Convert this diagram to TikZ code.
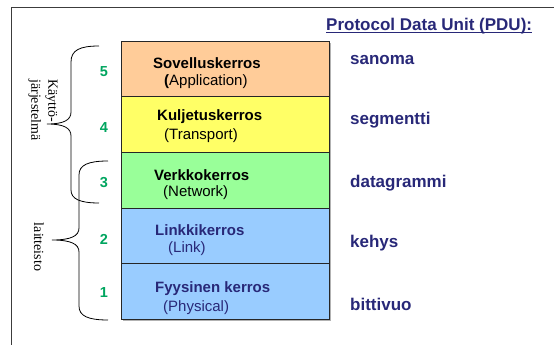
\documentclass[tikz,border=0pt]{standalone}
\usepackage{fontspec}
\setmainfont{Liberation Sans}
\newfontfamily\serifrm{Liberation Serif}
\definecolor{navy}{RGB}{40,40,120}
\definecolor{numgreen}{RGB}{0,165,95}
\definecolor{lorange}{RGB}{255,204,153}
\definecolor{lyellow}{RGB}{255,255,102}
\definecolor{lgreen}{RGB}{153,255,153}
\definecolor{lblue}{RGB}{153,204,255}
\definecolor{frame}{RGB}{60,60,60}
\begin{document}
\begin{tikzpicture}[x=1pt,y=-1pt,
  layer/.style={draw=black!85, line width=0.8pt, minimum width=208pt, minimum height=55.66pt, inner sep=0pt},
  lname/.style={anchor=west, font=\fontsize{15}{17}\selectfont\bfseries, inner sep=0pt},
  lsub/.style={anchor=west, font=\fontsize{15}{17}\selectfont, inner sep=0pt},
  num/.style={font=\fontsize{14.5}{16}\selectfont\bfseries, text=numgreen, inner sep=0pt},
  pdu/.style={anchor=west, font=\fontsize{17}{19}\selectfont\bfseries, text=navy, inner sep=0pt},
  side/.style={font=\fontsize{14}{17}\selectfont\serifrm, rotate=-90, inner sep=0pt},
  brace/.style={draw=black, line width=0.8pt}]
\useasboundingbox (0,0) rectangle (554,345);
% frame
\draw[frame, line width=0.9pt] (11,345) -- (11,7) -- (554,7);
% shadow
\fill[black!30] (123,43) rectangle (331,321);
% layers
\node[layer, fill=lorange] (L5) at (225,68.83) {};
\node[layer, fill=lyellow] (L4) at (225,124.49) {};
\node[layer, fill=lgreen]  (L3) at (225,180.15) {};
\node[layer, fill=lblue]   (L2) at (225,235.81) {};
\node[layer, fill=lblue]   (L1) at (225,291.47) {};
% layer texts
\node[lname] (t5a) at (153,63) {Sovelluskerros};
\node[lsub]  (t5b) at (164,82) {\textbf{(}Application)};
\node[lname] (t4a) at (157,117) {Kuljetuskerros};
\node[lsub]  (t4b) at (164,136) {(Transport)};
\node[lname] (t3a) at (154,175) {Verkkokerros};
\node[lsub]  (t3b) at (163,193) {(Network)};
\node[lname, text=navy] (t2a) at (155,230) {Linkkikerros};
\node[lsub, text=navy]  (t2b) at (168,249) {(Link)};
\node[lname, text=navy] (t1a) at (155,289) {Fyysinen kerros};
\node[lsub, text=navy]  (t1b) at (163,308) {(Physical)};
% numbers
\node[num] (n5) at (104,72) {5};
\node[num] (n4) at (104,128) {4};
\node[num] (n3) at (104,183) {3};
\node[num] (n2) at (104,239) {2};
\node[num] (n1) at (104,293) {1};
% PDU
\node[pdu] (hdr) at (326,26) {Protocol Data Unit (PDU):};
\draw[navy, line width=1.1pt] ([yshift=-2.2pt]hdr.base west) -- ([yshift=-2.2pt]hdr.base east);
\node[pdu] (p5) at (350,60) {sanoma};
\node[pdu] (p4) at (350,120) {segmentti};
\node[pdu] (p3) at (350,183) {datagrammi};
\node[pdu] (p2) at (350,243) {kehys};
\node[pdu] (p1) at (350,304) {bittivuo};
% braces
\draw[brace] (99,46) .. controls (80,46) and (71,50) .. (71,62) -- (71,112)
  .. controls (71,120) and (64,124) .. (47,124)
  .. controls (64,124) and (71,128) .. (71,136) -- (71,190)
  .. controls (71,199) and (80,203) .. (99,203);
\draw[brace] (108,161) .. controls (88,161) and (79,165) .. (79,175) -- (79,228)
  .. controls (79,236) and (71,240) .. (52,240)
  .. controls (71,240) and (79,244) .. (79,252) -- (79,306)
  .. controls (79,316) and (88,320) .. (108,320);
% side labels
\node[side, align=left] (os) at (43,110) {Käyttö-\\järjestelmä};
\node[side] (hw) at (39,247) {laitteisto};
\end{tikzpicture}
\end{document}
